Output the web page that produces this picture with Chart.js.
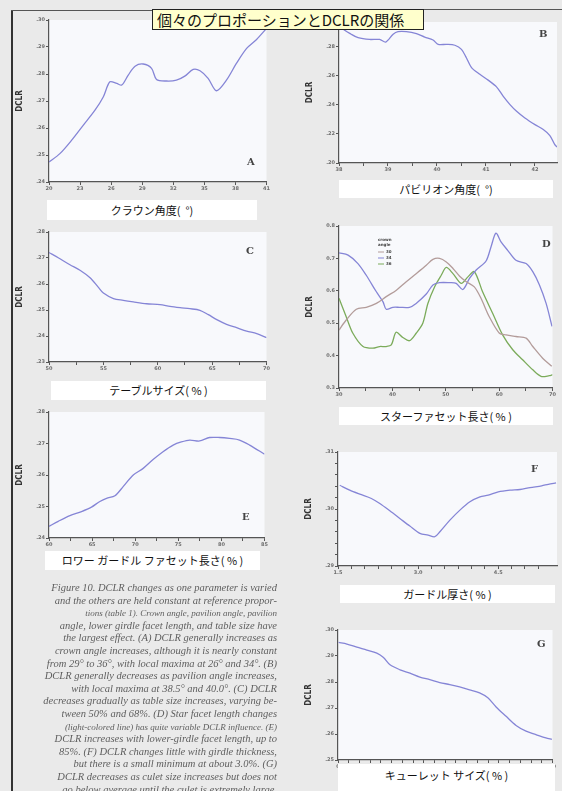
<!DOCTYPE html>
<html>
<head>
<meta charset="utf-8">
<script src="https://cdn.jsdelivr.net/npm/chart.js@4/dist/chart.umd.min.js"></script>
<style>
  html, body { margin: 0; padding: 0; }
  body { width: 562px; height: 791px; position: relative; overflow: hidden; background: #eaeaea; font-family: "Noto Sans CJK JP", sans-serif; }
  .abs { position: absolute; }
  .lbl { position: absolute; background: #fff; color: #111; font-size: 11px; text-align: center; white-space: nowrap; }
  .let { position: absolute; font-family: "DejaVu Serif", serif; font-weight: bold; font-size: 10px; color: #444; }
  #cap { position: absolute; left: 14px; top: 582px; width: 263px; font-family: "Liberation Serif", serif; font-style: italic; font-size: 10.5px; line-height: 12.6px; color: #5e5e5e; filter: blur(0.5px); }
  #cap div { text-align: right; white-space: nowrap; }
</style>
</head>
<body>
<!-- page frame lines -->
<div class="abs" style="left:11px;top:10px;width:2px;height:781px;background:#333"></div>
<div class="abs" style="left:11px;top:10px;width:142px;height:1px;background:#555"></div>
<div class="abs" style="left:420px;top:9px;width:142px;height:1px;background:#555"></div>

<canvas id="cA" class="abs"></canvas>
<canvas id="cB" class="abs"></canvas>
<canvas id="cC" class="abs"></canvas>
<canvas id="cD" class="abs"></canvas>
<canvas id="cE" class="abs"></canvas>
<canvas id="cF" class="abs"></canvas>
<canvas id="cG" class="abs"></canvas>

<div class="abs" style="left:152px;top:9px;width:266px;height:19px;background:#ffffcc;border:1px solid #222;font-size:15px;line-height:19px;padding-left:4px;white-space:nowrap;color:#111">個々のプロポーションとDCLRの関係</div>

<div class="lbl" style="left:47px;top:200px;width:210px;height:20px;line-height:20px">クラウン角度(&nbsp;&nbsp;°)</div>
<div class="lbl" style="left:339px;top:180px;width:214px;height:18px;line-height:18px">パビリオン角度(&nbsp;&nbsp;°)</div>
<div class="lbl" style="left:51px;top:381px;width:215px;height:19px;line-height:19px">テーブルサイズ( % )</div>
<div class="lbl" style="left:339px;top:407px;width:214px;height:18px;line-height:18px">スターファセット長さ( % )</div>
<div class="lbl" style="left:45px;top:551px;width:215px;height:19px;line-height:19px">ロワー ガードル ファセット長さ( % )</div>
<div class="lbl" style="left:340px;top:585px;width:215px;height:18px;line-height:18px">ガードル厚さ( % )</div>
<div class="lbl" style="left:338px;top:764px;width:217px;height:27px;line-height:22px">キューレット サイズ( % )</div>

<div class="let" style="left:247px;top:156px">A</div>
<div class="let" style="left:539px;top:28px">B</div>
<div class="let" style="left:246px;top:245px">C</div>
<div class="let" style="left:542px;top:238px">D</div>
<div class="let" style="left:242px;top:511px">E</div>
<div class="let" style="left:531px;top:463px">F</div>
<div class="let" style="left:537px;top:638px">G</div>

<div id="cap">
<div>Figure 10. DCLR changes as one parameter is varied</div>
<div>and the others are held constant at reference propor-</div>
<div style="font-size:9px">tions (table 1). Crown angle, pavilion angle, pavilion</div>
<div>angle, lower girdle facet length, and table size have</div>
<div>the largest effect. (A) DCLR generally increases as</div>
<div>crown angle increases, although it is nearly constant</div>
<div>from 29° to 36°, with local maxima at 26° and 34°. (B)</div>
<div>DCLR generally decreases as pavilion angle increases,</div>
<div>with local maxima at 38.5° and 40.0°. (C) DCLR</div>
<div>decreases gradually as table size increases, varying be-</div>
<div>tween 50% and 68%. (D) Star facet length changes</div>
<div style="font-size:9px">(light-colored line) has quite variable DCLR influence. (E)</div>
<div>DCLR increases with lower-girdle facet length, up to</div>
<div>85%. (F) DCLR changes little with girdle thickness,</div>
<div>but there is a small minimum at about 3.0%. (G)</div>
<div>DCLR decreases as culet size increases but does not</div>
<div>go below average until the culet is extremely large.</div>
</div>

<script>
// --- A: crown angle ---
var aTicksX = ["20", "23", "26", "29", "32", "35", "38", "41"];
var aTicksY = [".24", ".25", ".26", ".27", ".28", ".29", ".30"];
var aX = [0, 0.35, 0.73, 1.10, 1.48, 1.75, 1.96, 2.18, 2.34, 2.55, 2.77, 3.03, 3.30, 3.46, 3.78, 4.10, 4.37, 4.64, 4.86, 5.12, 5.39, 5.71, 6.03, 6.36, 6.68, 7.0];
var aY = [0.74, 1.05, 1.55, 2.10, 2.66, 3.16, 3.71, 3.65, 3.59, 3.96, 4.29, 4.37, 4.21, 3.80, 3.74, 3.77, 3.92, 4.17, 4.12, 3.84, 3.38, 3.77, 4.39, 4.95, 5.28, 5.69];

// --- B: pavilion angle ---
var bTicksX = ["38", "", "39", "", "40", "", "41", "", "42"];
var bTicksY = [".20", ".22", ".24", ".26", ".28"];
var bX = [0.0, 0.16, 0.50, 0.78, 1.25, 1.66, 1.91, 2.21, 2.41, 2.75, 3.16, 3.50, 3.84, 4.05, 4.39, 4.73, 5.00, 5.20, 5.41, 5.75, 6.09, 6.43, 6.70, 6.98, 7.25, 7.59, 8.0, 8.34, 8.61, 8.81, 8.9];
var bY = [4.85, 4.62, 4.43, 4.31, 4.25, 4.25, 4.16, 4.43, 4.52, 4.52, 4.45, 4.33, 4.23, 4.08, 4.08, 4.05, 3.91, 3.62, 3.28, 3.05, 2.85, 2.62, 2.30, 2.01, 1.78, 1.55, 1.32, 1.15, 0.94, 0.63, 0.55];

// --- C: table size ---
var cTicksX = ["50", "", "55", "", "60", "", "65", "", "70"];
var cTicksY = [".23", ".24", ".25", ".26", ".27", ".28"];
var cX = [0, 0.34, 0.77, 1.14, 1.51, 1.81, 2.0, 2.37, 2.73, 3.10, 3.59, 4.08, 4.45, 4.82, 5.18, 5.55, 5.86, 6.17, 6.53, 6.90, 7.27, 7.64, 8.0];
var cY = [4.21, 4.01, 3.74, 3.53, 3.24, 2.88, 2.65, 2.44, 2.37, 2.31, 2.24, 2.21, 2.14, 2.09, 2.05, 1.99, 1.82, 1.63, 1.45, 1.32, 1.19, 1.09, 0.94];

// --- D: star facet length, three crown angles ---
var dTicksX = ["30", "", "40", "", "50", "", "60", "", "70"];
var dTicksY = ["0.3", "0.4", "0.5", "0.6", "0.7", "0.8"];
var dNames = ["30", "34", "36"];
var dBrownX = [0, 0.27, 0.65, 1.02, 1.40, 1.77, 2.15, 2.52, 2.89, 3.27, 3.52, 3.77, 4.02, 4.27, 4.52, 4.77, 5.07, 5.32, 5.63, 6.01, 6.26, 6.63, 7.01, 7.26, 7.63, 7.97];
var dBrownY = [1.79, 2.10, 2.43, 2.49, 2.61, 2.82, 3.02, 3.28, 3.53, 3.79, 3.97, 4.00, 3.89, 3.69, 3.45, 3.28, 3.12, 2.77, 2.20, 1.69, 1.64, 1.59, 1.54, 1.28, 0.92, 0.67];
var dBlueX = [0, 0.34, 0.71, 1.02, 1.40, 1.65, 1.77, 2.02, 2.27, 2.64, 2.89, 3.27, 3.52, 3.77, 4.14, 4.39, 4.64, 4.89, 5.14, 5.51, 5.70, 5.88, 6.07, 6.32, 6.63, 7.01, 7.26, 7.51, 7.76, 7.98];
var dBlueY = [4.17, 4.10, 3.84, 3.48, 2.97, 2.66, 2.43, 2.49, 2.49, 2.49, 2.61, 2.90, 3.18, 3.25, 3.25, 3.23, 3.04, 3.38, 3.64, 3.92, 4.37, 4.78, 4.51, 4.25, 3.94, 3.84, 3.59, 3.18, 2.61, 1.90];
var dGreenX = [0, 0.27, 0.52, 0.90, 1.27, 1.52, 1.77, 1.96, 2.14, 2.39, 2.64, 2.89, 3.14, 3.33, 3.58, 3.83, 4.02, 4.27, 4.58, 4.83, 5.07, 5.38, 5.76, 6.13, 6.51, 6.88, 7.26, 7.57, 7.88, 8.0];
var dGreenY = [2.77, 2.20, 1.69, 1.28, 1.23, 1.28, 1.28, 1.33, 1.72, 1.56, 1.46, 1.69, 2.00, 2.61, 3.12, 3.48, 3.72, 3.53, 3.23, 3.43, 3.59, 2.97, 2.30, 1.64, 1.18, 0.87, 0.56, 0.36, 0.38, 0.41];

// --- E: lower girdle facet length ---
var eTicksX = ["60", "", "65", "", "70", "", "75", "", "80", "", "85"];
var eTicksY = [".24", ".25", ".26", ".27", ".28"];
var eX = [0, 0.43, 0.97, 1.51, 1.97, 2.36, 2.67, 3.06, 3.44, 3.91, 4.37, 4.83, 5.29, 5.76, 6.14, 6.53, 6.99, 7.45, 7.92, 8.38, 8.84, 9.31, 10.0];
var eY = [0.37, 0.53, 0.71, 0.84, 0.98, 1.16, 1.26, 1.34, 1.63, 2.00, 2.21, 2.49, 2.74, 2.95, 3.05, 3.11, 3.08, 3.19, 3.19, 3.16, 3.11, 2.95, 2.66];

// --- F: girdle thickness ---
var fTicksX = ["1.5", "", "", "", "", "", "3.0", "", "", "", "", "", "4.5", "", "", "", ""];
var fTicksY = [".29", "", "", "", "", ".30", "", "", "", "", ".31"];
var fX = [0.13, 0.88, 1.63, 2.50, 3.13, 3.88, 4.63, 5.38, 6.13, 6.75, 7.25, 7.63, 8.38, 9.13, 9.88, 10.63, 11.25, 12.0, 12.88, 13.63, 14.38, 15.25, 15.75, 16.33];
var fY = [7.08, 6.65, 6.30, 5.92, 5.48, 4.84, 4.17, 3.50, 2.86, 2.71, 2.57, 3.00, 4.02, 4.90, 5.63, 6.06, 6.21, 6.50, 6.65, 6.71, 6.88, 7.03, 7.17, 7.29];

// --- G: culet size ---
var gTicksX = ["0", "", "", "", "", "5", "", "", "", "", "10", "", "", "", "", "15", "", "", "", "", "20"];
var gTicksY = [".25", ".26", ".27", ".28", ".29", ".30"];
var gX = [0.06, 0.83, 1.76, 2.69, 3.62, 4.24, 4.85, 5.78, 6.71, 7.63, 8.56, 9.49, 10.42, 11.34, 12.27, 13.20, 13.97, 14.74, 15.67, 16.60, 17.53, 18.45, 19.38, 19.94];
var gY = [4.52, 4.46, 4.34, 4.23, 4.11, 3.94, 3.66, 3.47, 3.34, 3.19, 3.09, 2.98, 2.90, 2.81, 2.70, 2.58, 2.39, 2.04, 1.68, 1.33, 1.11, 0.98, 0.85, 0.79];

var lineBlue = "#8585d6";
var YW = 34, XH = 16, PT = 6, PR = 4;

function pts(xs, ys) {
    return xs.map(function (x, i) { return { x: x, y: ys[i] }; });
}

var plotBg = {
    id: "plotBg",
    beforeDraw: function (chart) {
        var a = chart.chartArea, ctx = chart.ctx;
        ctx.save();
        ctx.fillStyle = "#f8f9fc";
        ctx.fillRect(a.left, a.top, a.right - a.left, a.bottom - a.top);
        ctx.restore();
    }
};

var dLegend = {
    id: "dLegend",
    afterDraw: function (chart) {
        if (chart.canvas.id !== "cD") return;
        var ctx = chart.ctx, x = chart.chartArea.left + 39, y = chart.chartArea.top + 14;
        ctx.save();
        ctx.font = "bold 4px DejaVu Sans";
        ctx.fillStyle = "#444";
        ctx.textBaseline = "middle";
        ctx.fillText("crown", x, y);
        ctx.fillText("angle", x, y + 5);
        chart.data.datasets.forEach(function (ds, i) {
            var yy = y + 12 + i * 6;
            ctx.strokeStyle = ds.borderColor;
            ctx.lineWidth = 1;
            ctx.beginPath();
            ctx.moveTo(x, yy);
            ctx.lineTo(x + 6, yy);
            ctx.stroke();
            ctx.fillText(ds.label, x + 8, yy);
        });
        ctx.restore();
    }
};

function axis(max, labels, isY) {
    var o = {
        type: "linear",
        min: 0,
        max: max,
        afterBuildTicks: function (s) {
            s.ticks = s.ticks.filter(function (t) { return Number.isInteger(t.value); });
        },
        ticks: {
            stepSize: 1,
            autoSkip: false,
            maxRotation: 0,
            padding: 1,
            color: "#6e6e6e",
            font: { size: 5, weight: "bold", family: "DejaVu Sans" },
            callback: function (v) { return labels[v] !== undefined ? labels[v] : ""; }
        },
        grid: { drawOnChartArea: false, tickLength: 3, color: "#555", lineWidth: 1 },
        border: { color: "#555", width: 1.2 }
    };
    if (isY) {
        o.afterFit = function (s) { s.width = YW; };
        o.title = { display: true, text: "DCLR", color: "#333", font: { size: 8, weight: "bold", family: "DejaVu Sans Condensed" }, padding: 0 };
    } else {
        o.afterFit = function (s) { s.height = XH; };
    }
    return o;
}

function makeChart(id, box, xMax, yMax, xLabels, yLabels, datasets) {
    var cv = document.getElementById(id);
    var w = (box.r - box.l) + YW + PR, h = (box.b - box.t) + PT + XH;
    cv.width = w;
    cv.height = h;
    cv.style.left = (box.l - YW) + "px";
    cv.style.top = (box.t - PT) + "px";
    cv.style.width = w + "px";
    cv.style.height = h + "px";

    return new Chart(cv, {
        type: "line",
        data: { datasets: datasets },
        options: {
            responsive: false,
            animation: false,
            events: [],
            layout: { padding: { top: PT, right: PR, left: 0, bottom: 0 } },
            plugins: { legend: { display: false }, tooltip: { enabled: false } },
            elements: { point: { radius: 0 }, line: { borderWidth: 1.3, tension: 0.3 } },
            scales: { x: axis(xMax, xLabels, false), y: axis(yMax, yLabels, true) }
        },
        plugins: [plotBg, dLegend]
    });
}

function ds(label, xs, ys, color) {
    return { label: label, data: pts(xs, ys), borderColor: color, fill: false };
}

makeChart("cA", { l: 49, t: 20, r: 267, b: 182 }, 7, 6, aTicksX, aTicksY, [ds("A", aX, aY, lineBlue)]);
makeChart("cB", { l: 339, t: 22, r: 557, b: 163 }, 8.9, 4.85, bTicksX, bTicksY, [ds("B", bX, bY, lineBlue)]);
makeChart("cC", { l: 49, t: 232, r: 267, b: 362 }, 8, 5, cTicksX, cTicksY, [ds("C", cX, cY, lineBlue)]);
makeChart("cD", { l: 339, t: 226, r: 553, b: 388 }, 8, 5, dTicksX, dTicksY, [
    ds(dNames[0], dBrownX, dBrownY, "#b39c9a"),
    ds(dNames[1], dBlueX, dBlueY, lineBlue),
    ds(dNames[2], dGreenX, dGreenY, "#7bab5a")
]);
makeChart("cE", { l: 49, t: 412, r: 265, b: 538 }, 10, 4, eTicksX, eTicksY, [ds("E", eX, eY, lineBlue)]);
makeChart("cF", { l: 338, t: 452, r: 557, b: 566 }, 16.4, 10, fTicksX, fTicksY, [ds("F", fX, fY, lineBlue)]);
makeChart("cG", { l: 338, t: 630, r: 553, b: 760 }, 20, 5, gTicksX, gTicksY, [ds("G", gX, gY, lineBlue)]);
</script>
</body>
</html>
